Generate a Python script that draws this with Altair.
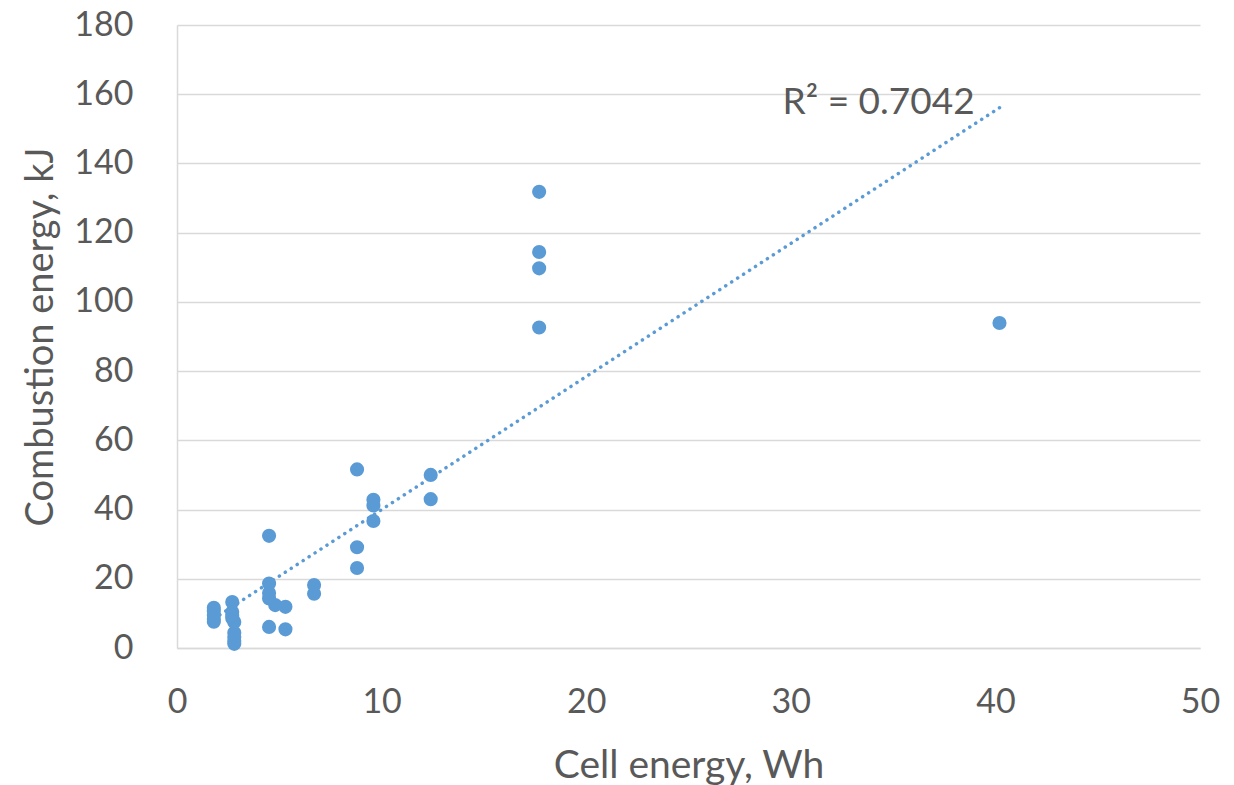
import altair as alt
import pandas as pd

cell_energy = [1.8, 1.8, 1.8, 1.8, 1.8,
               2.7, 2.7, 2.7, 2.7, 2.8, 2.8, 2.8, 2.8, 2.8,
               4.5, 4.5, 4.5, 4.5, 4.8, 5.3, 4.5, 5.3,
               6.7, 6.7,
               8.8, 8.8, 8.8,
               9.6, 9.6, 9.6,
               12.4, 12.4,
               17.7, 17.7, 17.7, 17.7,
               40.2]
combustion_energy = [11.6, 10.6, 9.5, 8.4, 7.6,
                     13.3, 10.4, 9.5, 8.6, 7.5, 4.4, 3.2, 2.0, 1.2,
                     32.4, 18.6, 15.9, 14.3, 12.4, 11.9, 6.1, 5.4,
                     18.2, 15.7,
                     51.6, 29.1, 23.1,
                     42.8, 41.2, 36.7,
                     50.0, 43.0,
                     131.8, 114.4, 109.7, 92.6,
                     93.9]

r2_label = ["R² = 0.7042"]
r2_x = [29.6]
r2_y = [154.3]

x_ticks = [0, 10, 20, 30, 40, 50]
y_ticks = [0, 20, 40, 60, 80, 100, 120, 140, 160, 180]

df = pd.DataFrame({"x": cell_energy, "y": combustion_energy})
lab = pd.DataFrame({"label": r2_label, "x": r2_x, "y": r2_y})

BLUE = "#5b9bd5"
TXT = "#595959"
FONT = "Lato"

xs = alt.Scale(domain=[0, 50], nice=False, zero=True)
ys = alt.Scale(domain=[0, 180], nice=False, zero=True)

x_axis = alt.Axis(values=x_ticks, title="Cell energy, Wh", grid=False, ticks=False,
                  domainColor="#d9d9d9", domainWidth=1.5, labelFlush=False,
                  labelFontSize=34, labelColor=TXT, labelFont=FONT, labelPadding=37,
                  titleFontSize=39, titleColor=TXT, titleFont=FONT, titleFontWeight="normal",
                  titlePadding=27)
y_axis = alt.Axis(values=y_ticks, title="Combustion energy, kJ", grid=True, ticks=False,
                  gridColor="#d9d9d9", gridWidth=1.5, labelFlush=False,
                  domainColor="#d9d9d9", domainWidth=1.5,
                  labelFontSize=34, labelColor=TXT, labelFont=FONT, labelPadding=44,
                  titleFontSize=38, titleColor=TXT, titleFont=FONT, titleFontWeight="normal",
                  titlePadding=13)

points = alt.Chart(df).mark_circle(size=200, color=BLUE, opacity=1).encode(
    x=alt.X("x:Q", scale=xs, axis=x_axis),
    y=alt.Y("y:Q", scale=ys, axis=y_axis),
)

trend = alt.Chart(df).transform_regression("x", "y", method="linear").mark_line(
    color=BLUE, strokeWidth=3.5, strokeDash=[0.1, 7], strokeCap="round"
).encode(
    x=alt.X("x:Q", scale=xs),
    y=alt.Y("y:Q", scale=ys),
)

text = alt.Chart(lab).mark_text(align="left", baseline="alphabetic", fontSize=37,
                                 font=FONT, color=TXT).encode(
    x=alt.X("x:Q", scale=xs),
    y=alt.Y("y:Q", scale=ys),
    text="label:N",
)

chart = alt.layer(trend, points, text).properties(
    width=1023, height=623,
    autosize=alt.AutoSizeParams(type="none"),
    padding={"left": 177, "top": 25, "right": 34, "bottom": 137},
    background="white",
).configure_view(stroke=None)

chart.save("out.html", embed_options={"renderer": "svg", "actions": False})
